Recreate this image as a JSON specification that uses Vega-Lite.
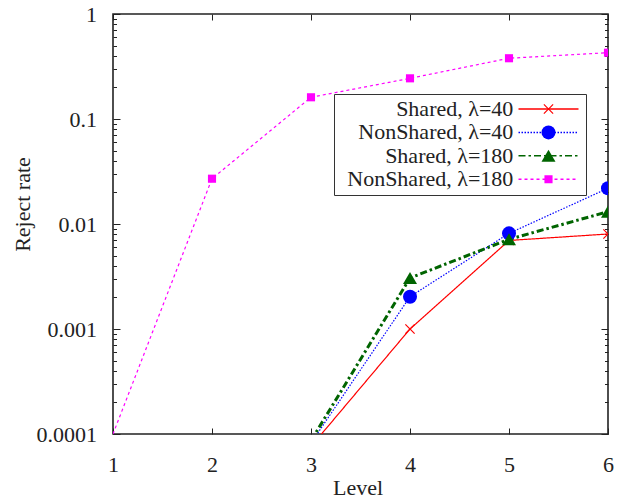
{
  "$schema": "https://vega.github.io/schema/vega-lite/v6.json",
  "width": 495,
  "height": 420,
  "autosize": {"type": "none"},
  "padding": {"left": 113, "top": 14, "right": 22, "bottom": 64},
  "background": "white",
  "config": {
    "view": {"stroke": "#222", "strokeWidth": 1.6},
    "axis": {"tickColor": "#222", "grid": false, "domain": false},
    "font": "Liberation Serif"
  },
  "data": {
    "values": [
      {"series": "Shared, λ=40", "level": 3, "rate": 0.000076},
      {"series": "Shared, λ=40", "level": 4, "rate": 0.001},
      {"series": "Shared, λ=40", "level": 5, "rate": 0.00697},
      {"series": "Shared, λ=40", "level": 6, "rate": 0.00803},
      {"series": "NonShared, λ=40", "level": 3, "rate": 0.000082},
      {"series": "NonShared, λ=40", "level": 4, "rate": 0.00203},
      {"series": "NonShared, λ=40", "level": 5, "rate": 0.00815},
      {"series": "NonShared, λ=40", "level": 6, "rate": 0.0219},
      {"series": "Shared, λ=180", "level": 3, "rate": 0.0000865},
      {"series": "Shared, λ=180", "level": 4, "rate": 0.00306},
      {"series": "Shared, λ=180", "level": 5, "rate": 0.00715},
      {"series": "Shared, λ=180", "level": 6, "rate": 0.0131},
      {"series": "NonShared, λ=180", "level": 1, "rate": 0.0001},
      {"series": "NonShared, λ=180", "level": 2, "rate": 0.027},
      {"series": "NonShared, λ=180", "level": 3, "rate": 0.161},
      {"series": "NonShared, λ=180", "level": 4, "rate": 0.244},
      {"series": "NonShared, λ=180", "level": 5, "rate": 0.379},
      {"series": "NonShared, λ=180", "level": 6, "rate": 0.428}
    ]
  },
  "layer": [
    {
      "mark": {"type": "line", "clip": true},
      "encoding": {
        "x": {
          "field": "level", "type": "quantitative",
          "scale": {"domain": [1, 6], "nice": false, "zero": false},
          "axis": {
            "orient": "bottom", "values": [1, 2, 3, 4, 5, 6], "format": "d",
            "labelFont": "Liberation Serif", "labelFontSize": 22, "labelColor": "#222",
            "labelPadding": 26.5, "labelFlush": false, "labelAngle": 0,
            "tickSize": -6, "tickWidth": 1,
            "title": "Level", "titleFont": "Liberation Serif", "titleFontSize": 22,
            "titleFontWeight": "normal", "titleColor": "#222",
            "titleX": 244.5, "titleY": 60, "titleBaseline": "alphabetic", "titleAlign": "center"
          }
        },
        "y": {
          "field": "rate", "type": "quantitative",
          "scale": {"type": "log", "domain": [0.0001, 1], "nice": false},
          "axis": {
            "orient": "left",
            "values": [0.0001, 0.0002, 0.0003, 0.0004, 0.0005, 0.0006, 0.0007, 0.0008, 0.0009,
                       0.001, 0.002, 0.003, 0.004, 0.005, 0.006, 0.007, 0.008, 0.009,
                       0.01, 0.02, 0.03, 0.04, 0.05, 0.06, 0.07, 0.08, 0.09,
                       0.1, 0.2, 0.3, 0.4, 0.5, 0.6, 0.7, 0.8, 0.9, 1],
            "labelExpr": "abs(log(datum.value)/LN10 - round(log(datum.value)/LN10)) < 0.001 ? format(datum.value, '~g') : ''",
            "labelOverlap": false,
            "labelFont": "Liberation Serif", "labelFontSize": 22, "labelColor": "#222",
            "labelPadding": 23.5,
            "tickSize": {"condition": {"test": "abs(log(datum.value)/LN10 - round(log(datum.value)/LN10)) < 0.001", "value": -7}, "value": -3.5},
            "tickWidth": 1,
            "title": "Reject rate", "titleFont": "Liberation Serif", "titleFontSize": 22,
            "titleFontWeight": "normal", "titleColor": "#222",
            "titleX": -84, "titleY": 190, "titleAngle": -90, "titleBaseline": "alphabetic", "titleAlign": "center"
          }
        },
        "stroke": {
          "field": "series", "type": "nominal",
          "scale": {
            "domain": ["NonShared, λ=180", "Shared, λ=180", "NonShared, λ=40", "Shared, λ=40"],
            "range": ["#ff00ff", "#006400", "#0000ff", "#ff0000"]
          },
          "legend": {
            "orient": "none", "legendX": 221, "legendY": 80, "title": null, "padding": 4,
            "values": ["Shared, λ=40", "NonShared, λ=40", "Shared, λ=180", "NonShared, λ=180"],
            "strokeColor": "#333", "symbolType": "M-4,0H4", "symbolSize": 225, "symbolStrokeWidth": 1.5,
            "symbolOffset": 199.5, "labelOffset": -46.2, "labelAlign": "right",
            "labelFont": "Liberation Serif", "labelFontSize": 22, "labelColor": "#222",
            "labelLimit": 400, "rowPadding": 1.4
          }
        },
        "strokeWidth": {
          "condition": {"test": "datum.series == 'Shared, λ=180'", "value": 3},
          "value": 1.2
        },
        "strokeDash": {
          "field": "series", "type": "nominal",
          "scale": {
            "domain": ["NonShared, λ=180", "Shared, λ=180", "NonShared, λ=40", "Shared, λ=40"],
            "range": [[3, 3], [7, 3, 2.5, 3], [1.5, 1.5], [1, 0]]
          },
          "legend": {
            "orient": "none", "legendX": 221, "legendY": 80, "title": null, "padding": 4,
            "values": ["Shared, λ=40", "NonShared, λ=40", "Shared, λ=180", "NonShared, λ=180"],
            "strokeColor": "#333", "symbolType": "M-4,0H4", "symbolSize": 225, "symbolStrokeWidth": 1.5,
            "symbolOffset": 199.5, "labelOffset": -46.2, "labelAlign": "right",
            "labelFont": "Liberation Serif", "labelFontSize": 22, "labelColor": "#222",
            "labelLimit": 400, "rowPadding": 1.4
          }
        }
      }
    },
    {
      "transform": [{"filter": "datum.rate > 0.0001"}],
      "mark": {"type": "point", "filled": true, "size": 196, "opacity": 1, "clip": true},
      "encoding": {
        "x": {
          "field": "level", "type": "quantitative",
          "axis": {"orient": "top", "values": [1, 2, 3, 4, 5, 6], "labels": false, "title": null, "tickSize": -6, "tickWidth": 1}
        },
        "y": {
          "field": "rate", "type": "quantitative",
          "axis": {
            "orient": "right", "labels": false, "title": null,
            "values": [0.0001, 0.0002, 0.0003, 0.0004, 0.0005, 0.0006, 0.0007, 0.0008, 0.0009,
                       0.001, 0.002, 0.003, 0.004, 0.005, 0.006, 0.007, 0.008, 0.009,
                       0.01, 0.02, 0.03, 0.04, 0.05, 0.06, 0.07, 0.08, 0.09,
                       0.1, 0.2, 0.3, 0.4, 0.5, 0.6, 0.7, 0.8, 0.9, 1],
            "tickSize": {"condition": {"test": "abs(log(datum.value)/LN10 - round(log(datum.value)/LN10)) < 0.001", "value": -7}, "value": -3.5},
            "tickWidth": 1
          }
        },
        "color": {
          "field": "series", "type": "nominal",
          "scale": {
            "domain": ["Shared, λ=40", "NonShared, λ=40", "Shared, λ=180", "NonShared, λ=180"],
            "range": ["#ff0000", "#0000ff", "#006400", "#ff00ff"]
          },
          "legend": {
            "orient": "none", "legendX": 424.5, "legendY": 84, "title": null, "padding": 0,
            "symbolSize": 196, "symbolStrokeWidth": 0, "labelExpr": "''",
            "labelFont": "Liberation Serif", "labelFontSize": 22,
            "clipHeight": 22, "rowPadding": 1.4
          }
        },
        "shape": {
          "field": "series", "type": "nominal",
          "scale": {
            "domain": ["Shared, λ=40", "NonShared, λ=40", "Shared, λ=180", "NonShared, λ=180"],
            "range": [
              "M-0.72,-0.6L-0.6,-0.72L0,-0.12L0.6,-0.72L0.72,-0.6L0.12,0L0.72,0.6L0.6,0.72L0,0.12L-0.6,0.72L-0.72,0.6L-0.12,0Z",
              "circle",
              "triangle-up",
              "M-0.58,-0.58H0.58V0.58H-0.58Z"
            ]
          },
          "legend": {
            "orient": "none", "legendX": 424.5, "legendY": 84, "title": null, "padding": 0,
            "symbolSize": 196, "symbolStrokeWidth": 0, "labelExpr": "''",
            "labelFont": "Liberation Serif", "labelFontSize": 22,
            "clipHeight": 22, "rowPadding": 1.4
          }
        }
      }
    }
  ],
  "resolve": {"axis": {"x": "independent", "y": "independent"}}
}
